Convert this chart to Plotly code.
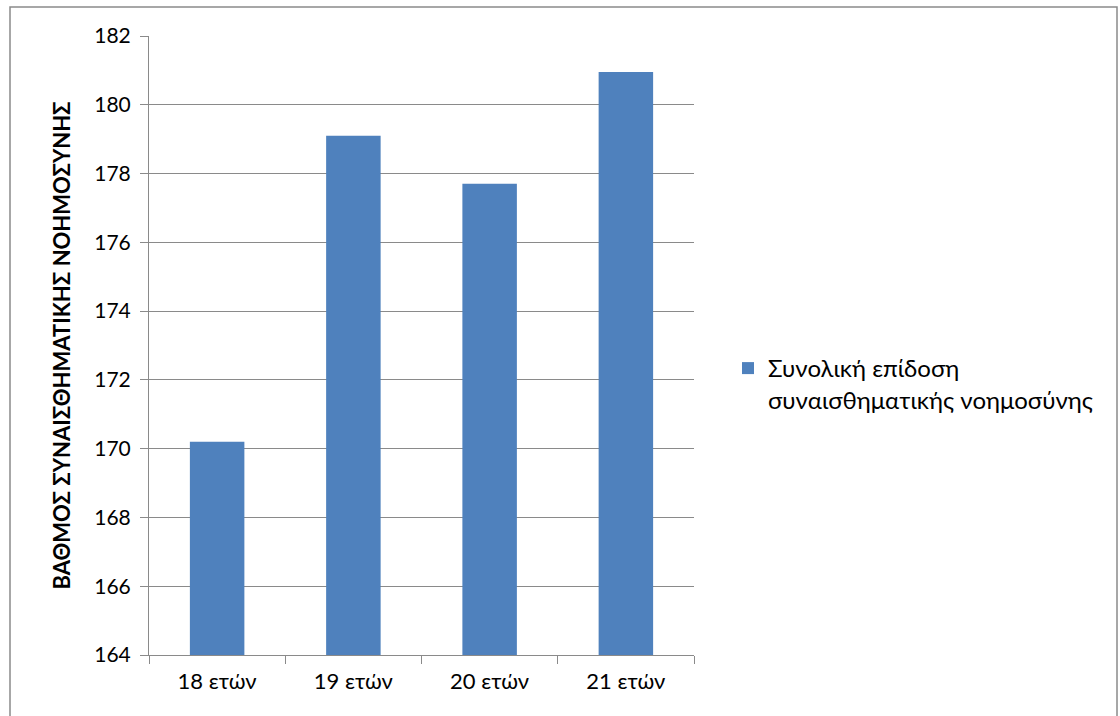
import plotly.graph_objects as go

categories = ["18 ετών", "19 ετών", "20 ετών", "21 ετών"]
values = [170.2, 179.1, 177.7, 180.95]
series_name = "Συνολική επίδοση<br>συναισθηματικής νοημοσύνης"
y_title = "ΒΑΘΜΟΣ ΣΥΝΑΙΣΘΗΜΑΤΙΚΗΣ ΝΟΗΜΟΣΥΝΗΣ"
y_ticks = [164, 166, 168, 170, 172, 174, 176, 178, 180, 182]

FONT = "Lato"
GRID = "#8a8a8a"
BAR = "#4f81bd"

fig = go.Figure()
fig.add_trace(go.Bar(
    x=categories, y=values, name=series_name,
    marker=dict(color=BAR, line=dict(width=0)),
    showlegend=True,
))

L, R, T, B = 149, 426, 36, 61
W, H = 1120, 716
pw = W - L - R
ph = H - T - B

def px_x(p):
    return (p - L) / pw

def px_y(p):
    return (H - B - p) / ph

fig.update_layout(
    width=W, height=H,
    margin=dict(l=L, r=R, t=T, b=B, autoexpand=False),
    paper_bgcolor="white", plot_bgcolor="white",
    font=dict(family=FONT, size=22, color="#000000"),
    bargap=0.6,
    showlegend=True,
    legend=dict(
        x=px_x(728), y=px_y(346), xanchor="left", yanchor="top",
        font=dict(family=FONT, size=24, color="#000000"),
        valign="top", bgcolor="rgba(0,0,0,0)",
        itemwidth=30,
    ),
    xaxis=dict(
        type="category",
        showline=True, linecolor=GRID, linewidth=1,
        ticks="outside", tickson="boundaries", ticklen=8, tickcolor=GRID,
        showgrid=False, zeroline=False,
        tickfont=dict(family=FONT, size=22),
        ticklabelstandoff=7,
        automargin=False,
    ),
    yaxis=dict(
        range=[164, 182], tickvals=y_ticks,
        showline=True, linecolor=GRID, linewidth=1,
        ticks="outside", ticklen=8, tickcolor=GRID,
        showgrid=True, gridcolor=GRID, gridwidth=1,
        zeroline=False,
        tickfont=dict(family=FONT, size=21),
        ticklabelstandoff=5,
        title=dict(text=y_title, font=dict(family=FONT, size=22, color="#000000", weight="bold"), standoff=17),
        automargin=False,
    ),
    shapes=[dict(
        type="rect", xref="paper", yref="paper",
        x0=px_x(10), x1=px_x(1117), y0=px_y(730), y1=px_y(7),
        line=dict(color="#8a8a8a", width=1.5), fillcolor="rgba(0,0,0,0)", layer="below",
    )],
)

fig.write_html("out.html")
